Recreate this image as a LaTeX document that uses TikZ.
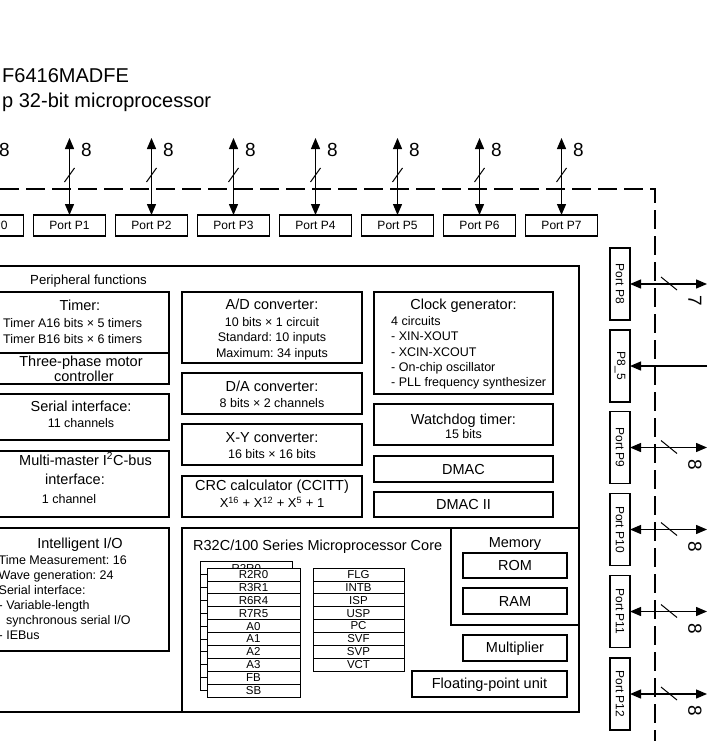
\documentclass[tikz,border=0pt]{standalone}
\usepackage{fontspec}
\setmainfont{Liberation Sans}
\usetikzlibrary{arrows.meta,fit}
\newcommand\fsz[1]{\fontsize{#1}{#1}\selectfont}
\frenchspacing
\begin{document}
\begin{tikzpicture}[x=1pt,y=-1pt,
  box/.style={draw=black, line width=1.3pt, fill=white, inner sep=0pt, outer sep=0pt},
  fbox/.style={box, fit={#1}},
  reg/.style={draw=black, line width=0.75pt, fill=white, inner sep=0pt, outer sep=0pt, minimum width=93pt, minimum height=12.9pt, anchor=north west, font=\fsz{11.5}},
  regb/.style={reg, minimum width=91pt, minimum height=12.875pt},
  hdr/.style={anchor=base, inner sep=0pt, font=\fsz{14.5}},
  sub/.style={anchor=base, inner sep=0pt, font=\fsz{12.5}},
  lft/.style={anchor=base west, inner sep=0pt, font=\fsz{12.5}},
  ttl/.style={anchor=base west, inner sep=0pt, font=\fsz{20}},
  port/.style={box, minimum width=72pt, minimum height=21pt, font=\fsz{12}},
  vport/.style={box, minimum width=20pt, minimum height=72pt, font=\fsz{12}},
  tip/.tip={Triangle[length=11pt,width=9pt]},
  bus/.style={line width=1.3pt, tip-tip},
  inbus/.style={line width=1.3pt, -tip},
  slash/.style={line width=1pt},
  buswidth/.style={inner sep=0pt, font=\fsz{19}},
  bound/.style={line width=1.3pt, dash pattern=on 19pt off 7pt}
]
\useasboundingbox (0,0) rectangle (716,741);
\clip (0,0) rectangle (716,741);
\fill[white] (0,0) rectangle (716,741);

% title
\node[ttl] (title1) at (2,83) {F6416MADFE};
\node[ttl] (title2) at (2,108) {p 32-bit microprocessor};

% chip boundary
\coordinate (bd0) at (0,189);
\coordinate (bd1) at (655,189);
\coordinate (bd2) at (655,741);
\draw[bound] (bd0) -- (bd1) -- (bd2);

% top ports
\foreach \n/\x in {0/-12.5,1/69.5,2/151.5,3/233.5,4/315.5,5/397.5,6/479.5,7/561.5}{
  \node[port] (p\n) at (\x,225.5) {Port P\n};
  \coordinate (p\n top) at (\x,138);
  \draw[bus] (p\n top) -- (p\n.north);
  \draw[slash] ({\x-5},182) -- ({\x+5},168);
  \node[buswidth] (pw\n) at ({\x+17},150) {8};
}

% right ports
\node[vport] (q8) at (620,284) {\rotatebox{-90}{Port P8}};
\node[vport] (q85) at (620,366) {\rotatebox{-90}{P8\_5}};
\node[vport] (q9) at (620,447.5) {\rotatebox{-90}{Port P9}};
\node[vport] (q10) at (620,529.5) {\rotatebox{-90}{Port P10}};
\node[vport] (q11) at (620,611.5) {\rotatebox{-90}{Port P11}};
\node[vport] (q12) at (620,694) {\rotatebox{-90}{Port P12}};
\foreach \n/\y/\w in {8/284/7,9/447.5/8,10/529.5/8,11/611.5/8,12/694/8}{
  \coordinate (q\n end) at (707,\y);
  \draw[bus] (q\n.east) -- (q\n end);
  \draw[slash] (661,{\y-7}) -- (677,{\y+6});
  \node[buswidth, rotate=-90] (qw\n) at (695,{\y+17}) {\w};
}
\coordinate (q85end) at (707,366);
\draw[inbus] (q85end) -- (q85.east);

% peripheral functions
\node[fbox={(-20,266)(579,712)}] (periph) {};
\node[anchor=base west, inner sep=0pt, font=\fsz{13.2}] (periphT) at (30,284) {Peripheral functions};

% left column
\node[fbox={(-3,292)(169,353)}] (timer) {};
\node[hdr] (timerA) at (80,310) {Timer:};
\node[lft] (timerB) at (3,327) {Timer A16 bits × 5 timers};
\node[lft] (timerC) at (3,343) {Timer B16 bits × 6 timers};

\node[fbox={(-3,353)(169,384)}] (motor) {};
\node[hdr] (motorA) at (81,366) {Three-phase motor};
\node[hdr] (motorB) at (84,381.5) {controller};

\node[fbox={(-3,394)(169,440)}] (serial) {};
\node[hdr] (serialA) at (81,411.7) {Serial interface:};
\node[sub] (serialB) at (81,427.7) {11 channels};

\node[fbox={(-3,451)(169,517)}] (iic) {};
\node[hdr] (iicA) at (85.5,465) {Multi-master I\textsuperscript{2}C-bus};
\node[hdr] (iicB) at (75,484) {interface:};
\node[sub] (iicC) at (69,503) {1 channel};

\node[fbox={(-3,528)(169,651)}] (iio) {};
\node[hdr] (iioA) at (80,548) {Intelligent I/O};
\node[lft] (iioB) at (-1.5,564) {Time Measurement: 16};
\node[lft] (iioC) at (-1.5,579) {Wave generation: 24};
\node[lft] (iioD) at (-1.5,594) {Serial interface:};
\node[lft] (iioE) at (-1.5,609) {- Variable-length};
\node[lft] (iioF) at (6,624) {synchronous serial I/O};
\node[lft] (iioG) at (-1.5,639) {- IEBus};

% middle column
\node[fbox={(182,292)(362,363)}] (adc) {};
\node[hdr] (adcA) at (272,309) {A/D converter:};
\node[sub] (adcB) at (272,326) {10 bits × 1 circuit};
\node[sub] (adcC) at (272,341.5) {Standard: 10 inputs};
\node[sub] (adcD) at (272,357) {Maximum: 34 inputs};

\node[fbox={(182,373)(362,414)}] (dac) {};
\node[hdr] (dacA) at (272,391.5) {D/A converter:};
\node[sub] (dacB) at (272,407) {8 bits × 2 channels};

\node[fbox={(182,424)(362,465)}] (xy) {};
\node[hdr] (xyA) at (272,442) {X-Y converter:};
\node[sub] (xyB) at (272,458) {16 bits × 16 bits};

\node[fbox={(182,476)(362,517)}] (crc) {};
\node[hdr] (crcA) at (272,490) {CRC calculator (CCITT)};
\node[anchor=base, inner sep=0pt, font=\fsz{13}] (crcB) at (272,507.5) {X\textsuperscript{16} + X\textsuperscript{12} + X\textsuperscript{5} + 1};

% right column
\node[fbox={(374,292)(553,394)}] (clk) {};
\node[hdr] (clkA) at (463.5,309) {Clock generator:};
\node[lft] (clkB) at (391,325) {4 circuits};
\node[lft] (clkC) at (391,340.7) {- XIN-XOUT};
\node[lft] (clkD) at (391,356) {- XCIN-XCOUT};
\node[lft] (clkE) at (391,371) {- On-chip oscillator};
\node[lft] (clkF) at (391,386) {- PLL frequency synthesizer};

\node[fbox={(374,404)(553,445)}] (wdt) {};
\node[hdr] (wdtA) at (463.5,424) {Watchdog timer:};
\node[sub] (wdtB) at (463.5,438) {15 bits};

\node[fbox={(374,456)(553,482)}] (dmac) {};
\node[hdr] (dmacA) at (463.5,474) {DMAC};

\node[fbox={(374,492)(553,517)}] (dmac2) {};
\node[hdr] (dmac2A) at (463.5,509.5) {DMAC II};

% core
\node[fbox={(182,528)(579,712)}] (core) {};
\node[anchor=base west, inner sep=0pt, font=\fsz{14.5}] (coreA) at (193,550) {R32C/100 Series Microprocessor Core};

\node[fbox={(451,528)(579,625)}] (mem) {};
\node[hdr] (memA) at (515,547.5) {Memory};
\node[fbox={(463,553)(567,578)}] (rom) {};
\node[hdr] (romA) at (515,570.5) {ROM};
\node[fbox={(463,588)(567,614)}] (ram) {};
\node[hdr] (ramA) at (515,606) {RAM};
\node[fbox={(463,635)(567,661)}] (mul) {};
\node[hdr] (mulA) at (515,652.5) {Multiplier};
\node[fbox={(412,671)(567,697)}] (fpu) {};
\node[hdr] (fpuA) at (489.5,688) {Floating-point unit};

% register banks
\node[draw=black, line width=0.75pt, fill=white, inner sep=0pt, fit={(200,561.5)(292.5,690.5)}] (bank) {};
\begin{scope}
  \clip (200,560) rectangle (293,568);
  \node[anchor=base, inner sep=0pt, font=\fsz{11.5}] (bankT) at (246.25,572.5) {R2R0};
\end{scope}
\foreach \k in {1,...,10}{
  \draw[line width=0.75pt] (200,{561.5+\k*12.9}) -- (207,{561.5+\k*12.9});
}
\foreach \r [count=\k from 0] in {R2R0,R3R1,R6R4,R7R5,A0,A1,A2,A3,FB,SB}{
  \node[reg] (ra\k) at (207,{568+\k*12.9}) {\r};
}
\foreach \r [count=\k from 0] in {FLG,INTB,ISP,USP,PC,SVF,SVP,VCT}{
  \node[regb] (rb\k) at (313,{568+\k*12.875}) {\r};
}
\end{tikzpicture}
\end{document}
